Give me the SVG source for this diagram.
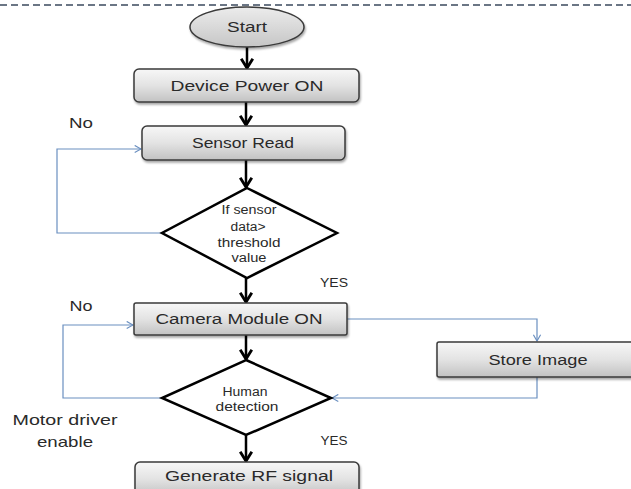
<svg xmlns="http://www.w3.org/2000/svg" width="631" height="489" viewBox="0 0 631 489">
<style>
.t{font-family:"Liberation Sans",Arial,sans-serif;fill:#2a2a2a;text-anchor:middle}
.f14{font-size:14px}
.f12{font-size:12px}
.f13{font-size:13px}
.f15{font-size:15px}
.box{fill:url(#g);stroke:#3a3a3a;stroke-width:1.5;filter:url(#sh)}
.dia{fill:#ffffff;stroke:#000;stroke-width:2.5;stroke-linejoin:miter}
.main{stroke:#000;stroke-width:2.5;fill:none;marker-end:url(#ah)}
.blue{stroke:#6a8fc0;stroke-width:1.2;fill:none;marker-end:url(#bh)}
</style>
<defs>
<linearGradient id="g" x1="0" y1="0" x2="0" y2="1">
<stop offset="0" stop-color="#f7f7f7"/>
<stop offset="0.5" stop-color="#e3e3e3"/>
<stop offset="1" stop-color="#c2c2c2"/>
</linearGradient>
<linearGradient id="ge" x1="0" y1="0" x2="0" y2="1">
<stop offset="0" stop-color="#ececec"/>
<stop offset="1" stop-color="#c6c6c6"/>
</linearGradient>
<filter id="sh" x="-10%" y="-20%" width="120%" height="150%">
<feDropShadow dx="1" dy="2" stdDeviation="1.2" flood-color="#000" flood-opacity="0.35"/>
</filter>
<marker id="ah" markerUnits="userSpaceOnUse" markerWidth="14" markerHeight="14" viewBox="0 0 12 12" refX="10" refY="6" orient="auto">
<path d="M2,1 L10,6 L2,11" fill="none" stroke="#000" stroke-width="2.5"/>
</marker>
<marker id="bh" markerUnits="userSpaceOnUse" markerWidth="9" markerHeight="9" viewBox="0 0 10 10" refX="9" refY="5" orient="auto">
<path d="M2,1 L9,5 L2,9" fill="none" stroke="#6a8fc0" stroke-width="1.3"/>
</marker>
</defs>
<rect width="631" height="489" fill="#ffffff"/>
<line x1="0" y1="5" x2="631" y2="5" stroke="#3b4a5e" stroke-width="1.6" stroke-dasharray="7,4"/>

<g id="connectors">
<line class="main" x1="247" y1="47" x2="247" y2="68"/>
<line class="main" x1="246" y1="102" x2="246" y2="125"/>
<line class="main" x1="246" y1="160" x2="246" y2="187"/>
<line class="main" x1="246" y1="278" x2="246" y2="302"/>
<line class="main" x1="246" y1="335" x2="246" y2="359"/>
<line class="main" x1="246" y1="435" x2="246" y2="461"/>
<polyline class="blue" points="162,233 57,233 57,149 141,149"/>
<polyline class="blue" points="162,398 63,398 63,325 133,325"/>
<polyline class="blue" points="347,319 537,319 537,341"/>
<polyline class="blue" points="537,377 537,398 332,398"/>
</g>

<g id="start">
<ellipse cx="247" cy="27" rx="57" ry="20" fill="url(#ge)" stroke="#3a3a3a" stroke-width="1.5" filter="url(#sh)"/>
<text class="t f14" x="247" y="32" textLength="40" lengthAdjust="spacingAndGlyphs">Start</text>
</g>

<g id="device">
<rect class="box" x="134" y="69" width="225" height="33" rx="5"/>
<text class="t f14" x="247" y="91" textLength="153" lengthAdjust="spacingAndGlyphs">Device Power ON</text>
</g>

<g id="sensor">
<rect class="box" x="142" y="126" width="203" height="34" rx="5"/>
<text class="t f14" x="243" y="148" textLength="102" lengthAdjust="spacingAndGlyphs">Sensor Read</text>
</g>

<g id="decision1">
<polygon class="dia" points="247,188 337,233 247,278 162,233"/>
<text class="t f12" x="249" y="214" textLength="55" lengthAdjust="spacingAndGlyphs">If sensor</text>
<text class="t f12" x="248" y="231" textLength="35" lengthAdjust="spacingAndGlyphs">data&gt;</text>
<text class="t f12" x="249" y="247" textLength="63" lengthAdjust="spacingAndGlyphs">threshold</text>
<text class="t f12" x="249" y="262" textLength="35" lengthAdjust="spacingAndGlyphs">value</text>
</g>

<g id="camera">
<rect class="box" x="134" y="303" width="213" height="32" rx="2"/>
<text class="t f14" x="239" y="324" textLength="167" lengthAdjust="spacingAndGlyphs">Camera Module  ON</text>
</g>

<g id="store">
<rect class="box" x="437" y="342" width="200" height="35" rx="2"/>
<text class="t f14" x="538" y="365" textLength="99" lengthAdjust="spacingAndGlyphs">Store Image</text>
</g>

<g id="decision2">
<polygon class="dia" points="246,360 331,398 246,435 162,398"/>
<text class="t f12" x="245" y="396" textLength="45" lengthAdjust="spacingAndGlyphs">Human</text>
<text class="t f12" x="247" y="411" textLength="63" lengthAdjust="spacingAndGlyphs">detection</text>
</g>

<g id="generate">
<rect class="box" x="135" y="462" width="224" height="34" rx="5"/>
<text class="t f14" x="249" y="481" textLength="168" lengthAdjust="spacingAndGlyphs">Generate RF signal</text>
</g>

<g id="labels">
<text class="t f14" x="81" y="128" textLength="24" lengthAdjust="spacingAndGlyphs">No</text>
<text class="t f13" x="334" y="287" textLength="28" lengthAdjust="spacingAndGlyphs">YES</text>
<text class="t f14" x="81" y="311" textLength="23" lengthAdjust="spacingAndGlyphs">No</text>
<text class="t f15" x="65" y="425" textLength="105" lengthAdjust="spacingAndGlyphs">Motor driver</text>
<text class="t f15" x="65" y="447" textLength="56" lengthAdjust="spacingAndGlyphs">enable</text>
<text class="t f13" x="334" y="445" textLength="27" lengthAdjust="spacingAndGlyphs">YES</text>
</g>
</svg>
